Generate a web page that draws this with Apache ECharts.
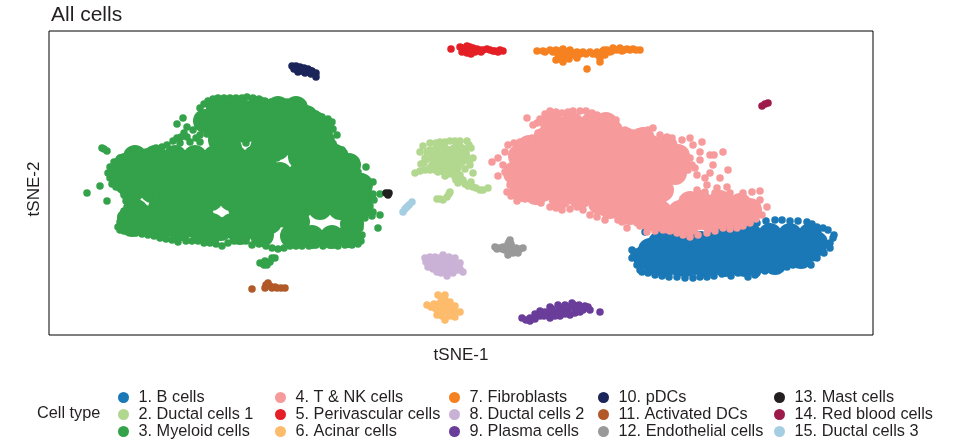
<!DOCTYPE html>
<html><head><meta charset="utf-8">
<style>html,body{margin:0;padding:0;background:#fff}#c{width:953px;height:445px}</style>
<script src="https://cdn.jsdelivr.net/npm/echarts@6/dist/echarts.min.js"></script>
</head><body><div id="c"></div>
<script>
const cellTypes=["1. B cells","2. Ductal cells 1","3. Myeloid cells","4. T & NK cells","5. Perivascular cells","6. Acinar cells","7. Fibroblasts","8. Ductal cells 2","9. Plasma cells","10. pDCs","11. Activated DCs","12. Endothelial cells","13. Mast cells","14. Red blood cells","15. Ductal cells 3"];
const colors=["#1a78b6","#b2d78f","#33a24a","#f69a9b","#e41f26","#fdbb6c","#f68121","#cab2d6","#6a3d9a","#1b2559","#b15928","#999999","#231f20","#9e1a4b","#a6cee3"];

const bCore=[[289,-52],[309,-52],[329,-52],[349,-52],[189,-67],[209,-67],[229,-67],[249,-67],[269,-67],[289,-67],[309,-67],[329,-67],[349,-67],[194,-80],[214,-80],[234,-80],[254,-80],[274,-80],[294,-80],[314,-80],[269,-57],[199,-60],[219,-60],[239,-60],[259,-60],[279,-60],[299,-60],[319,-60],[339,-60],[355,-60],[184,-74],[204,-74],[224,-74],[244,-74],[264,-74],[284,-74],[304,-74],[324,-74],[340,-74],[204,-82],[224,-82],[244,-82],[264,-82],[284,-82]];
const bEdge=[[171,-75],[173,-71],[171,-67],[176,-69],[182,-64],[189,-59],[195,-56],[202,-54],[209,-54],[216,-55],[224,-53],[232,-52],[240,-52],[249,-52],[257,-49],[266,-47],[272,-45],[279,-44],[287,-42],[296,-40],[305,-38],[314,-37],[321,-37],[329,-38],[337,-38],[346,-39],[351,-41],[356,-44],[362,-45],[367,-47],[372,-55],[373,-52],[369,-60],[369,-65],[363,-70],[356,-75],[350,-82],[347,-78],[339,-80],[332,-82],[326,-84],[319,-85],[312,-87],[304,-88],[296,-90],[294,-92],[287,-94],[277,-90],[270,-93],[261,-91],[253,-93],[246,-94],[239,-94],[232,-95],[224,-95],[216,-94],[208,-94],[201,-93],[194,-92],[187,-90],[181,-89],[176,-82],[179,-87],[184,-49],[182,-80],[179,-75],[187,-79]];

const ductal1Core=[[-20,28],[-3,28],[-11,18]];
const ductal1Edge=[[-41,31],[-38,37],[-31,40],[-25,40],[-21,41],[-16,41],[-11,42],[-6,42],[-1,42],[6,42],[8,38],[10,35],[12,25],[9,23],[9,18],[4,14],[-1,8],[-6,6],[-16,7],[-23,11],[-31,15],[-37,20],[-40,19],[-36,25],[-34,31],[-29,18],[-29,25],[-26,13],[-46,10],[-41,12],[-36,13],[-31,13],[12,10],[-3,0],[2,3],[-5,3],[-1,5],[7,-3],[12,-4],[19,-7],[15,-5],[22,-7],[27,-5],[4,-1],[10,1],[-24,-16],[-18,-17],[-14,-14],[-11,-9],[-12,-11],[-21,-16],[-31,33],[-28,30],[-25,33],[-34,24],[-24,17],[-20,12],[-12,9],[-7,10]];

const myeloidCore=[[-243,75],[-223,75],[-203,75],[-183,75],[-165,75],[-246,60],[-226,60],[-206,60],[-186,60],[-166,60],[-146,60],[-241,43],[-193,43],[-173,43],[-153,43],[-139,43],[-326,26],[-306,26],[-286,26],[-266,26],[-246,26],[-226,26],[-206,26],[-161,26],[-141,26],[-124,26],[-341,9],[-321,9],[-301,9],[-281,9],[-261,9],[-241,9],[-221,9],[-201,9],[-181,9],[-161,9],[-141,9],[-121,9],[-111,6],[-329,-8],[-309,-8],[-289,-8],[-269,-8],[-249,-8],[-229,-8],[-209,-8],[-189,-8],[-169,-8],[-149,-8],[-129,-8],[-111,-8],[-301,-25],[-281,-25],[-261,-25],[-221,-25],[-201,-25],[-181,-25],[-161,-25],[-141,-25],[-121,-25],[-101,-25],[-329,-42],[-309,-42],[-289,-42],[-269,-42],[-249,-42],[-229,-42],[-209,-42],[-323,-35],[-191,-39],[-163,-39],[-109,-41],[-169,-53],[-149,-54],[-129,-54],[-112,-53],[-199,-52],[-221,-50],
[-233,68],[-213,68],[-193,68],[-173,68],[-155,66],[-236,52],[-216,52],[-196,52],[-176,52],[-156,52],[-140,52],[-231,35],[-199,35],[-183,35],[-163,35],[-145,35],[-135,35],[-336,18],[-316,18],[-296,18],[-276,18],[-256,18],[-236,18],[-216,18],[-196,18],[-150,18],[-130,18],[-112,18],[-335,0],[-315,0],[-295,0],[-275,0],[-255,0],[-235,0],[-215,0],[-195,0],[-175,0],[-155,0],[-135,0],[-115,0],[-100,-2],[-290,-16],[-270,-16],[-250,-16],[-230,-16],[-210,-16],[-190,-16],[-170,-16],[-150,-16],[-130,-16],[-110,-16],[-100,-14],[-319,-33],[-299,-33],[-279,-33],[-259,-33],[-219,-33],[-199,-33],[-175,-33],[-280,-46],[-260,-48],[-240,-46],[-319,-40],[-325,-28],[-332,-36],[-256,62],[-300,-45],[-250,-49]];
const myeloidEdge=[[-261,75],[-257,79],[-253,82],[-248,84],[-243,85],[-237,85],[-231,85],[-225,85],[-219,85],[-214,86],[-208,85],[-202,84],[-196,82],[-190,81],[-184,81],[-178,81],[-174,81],[-168,80],[-162,78],[-156,75],[-150,72],[-145,69],[-139,66],[-133,64],[-129,61],[-131,58],[-128,54],[-124,48],[-130,45],[-134,40],[-128,38],[-124,35],[-119,33],[-121,28],[-116,23],[-109,25],[-111,18],[-105,17],[-95,16],[-103,11],[-99,6],[-94,-1],[-88,1],[-103,0],[-101,-7],[-95,-9],[-88,-11],[-81,-11],[-87,-17],[-91,-23],[-88,-29],[-81,-32],[-89,-33],[-96,-35],[-83,-45],[-103,-39],[-101,-45],[-99,-52],[-100,-58],[-103,-61],[-109,-62],[-116,-62],[-123,-63],[-131,-62],[-138,-63],[-145,-62],[-152,-63],[-159,-63],[-165,-63],[-171,-63],[-177,-65],[-183,-66],[-189,-65],[-195,-63],[-202,-61],[-209,-62],[-215,-58],[-221,-57],[-227,-58],[-233,-60],[-239,-63],[-245,-61],[-251,-60],[-257,-60],[-263,-58],[-269,-58],[-275,-58],[-283,-59],[-289,-57],[-295,-56],[-301,-55],[-307,-53],[-313,-52],[-319,-51],[-325,-50],[-331,-49],[-337,-48],[-341,-47],[-343,-44],[-341,-39],[-340,-33],[-337,-28],[-334,-24],[-335,-18],[-337,-12],[-339,-6],[-345,-4],[-349,-1],[-351,5],[-353,10],[-351,16],[-347,21],[-341,25],[-334,27],[-327,29],[-321,30],[-315,31],[-309,33],[-305,35],[-299,36],[-294,38],[-288,42],[-284,45],[-284,59],[-278,65],[-274,56],[-268,53],[-274,46],[-281,40],[-271,41],[-265,45],[-261,48],[-261,41],[-254,49],[-184,25],[-225,42],[-206,42],[-215,40],[-359,35],[-354,32],[-357,34],[-361,-3],[-374,-10],[-354,-18],[-201,-80],[-197,-82],[-194,-82],[-189,-75],[-186,-75],[-191,-79],[-196,-78],[-277,50],[-280,46]];

const tnkCore=[[91,59],[111,59],[131,59],[145,59],[84,44],[104,44],[124,44],[144,44],[164,44],[182,44],[59,27],[79,27],[99,27],[119,27],[139,27],[159,27],[179,27],[199,27],[217,27],[54,10],[74,10],[94,10],[114,10],[134,10],[154,10],[174,10],[194,10],[214,10],[61,-7],[81,-7],[101,-7],[121,-7],[141,-7],[161,-7],[181,-7],[201,-7],[139,-20],[159,-22],[179,-24],[199,-29],[239,-19],[259,-19],[279,-22],[219,-29],[239,-35],[259,-34],[279,-33],[209,-39],[227,-41],[189,-36],[99,-14],[119,-14],
[95,52],[115,52],[135,52],[150,52],[68,36],[88,36],[108,36],[128,36],[148,36],[168,36],[190,36],[205,36],[62,18],[82,18],[102,18],[122,18],[142,18],[162,18],[182,18],[202,18],[218,18],[58,2],[78,2],[98,2],[118,2],[138,2],[158,2],[178,2],[198,2],[75,-10],[135,-12],[155,-12],[175,-12],[195,-12],[149,-24],[169,-30],[189,-28],[229,-20],[249,-25],[269,-25],[289,-27],[249,-37],[269,-33],[199,-36],[218,-38]];
const tnkEdge=[[66,65],[72,58],[76,60],[79,64],[84,69],[89,72],[95,71],[101,70],[107,71],[112,72],[119,72],[125,72],[131,70],[136,68],[142,66],[147,65],[155,63],[155,56],[164,53],[172,50],[177,51],[182,52],[187,53],[192,55],[199,48],[206,46],[211,45],[221,43],[229,45],[232,38],[241,41],[239,31],[249,28],[253,28],[262,31],[252,18],[267,13],[259,5],[249,10],[246,-2],[256,-5],[266,-4],[269,-10],[282,-10],[291,-9],[299,-8],[299,-17],[306,-24],[301,-32],[295,-36],[289,-40],[282,-43],[276,-45],[269,-46],[262,-45],[254,-48],[246,-50],[237,-52],[229,-54],[222,-52],[216,-50],[209,-48],[202,-47],[194,-48],[186,-49],[179,-43],[176,-40],[166,-45],[161,-39],[157,-37],[144,-37],[136,-34],[129,-32],[122,-27],[116,-24],[109,-26],[101,-27],[95,-25],[89,-24],[80,-20],[72,-17],[64,-16],[56,-18],[50,-13],[46,-9],[49,-2],[37,7],[44,11],[42,18],[31,21],[37,25],[44,31],[47,38],[53,40],[59,41],[65,43],[71,45],[77,50],[234,15],[239,23],[229,25],[244,5],[236,-7],[244,-9],[254,-10],[227,13],[231,18],[236,8]];

const perivascularEdge=[[-10,134],[-1,136],[6,137],[12,135],[26,134],[42,132],[34,132],[19,133],[4,133],[6,130],[14,131],[29,133],[39,133],[2,135],[9,136],[16,134],[22,133],[32,132],[37,131],[1,131],[10,129],[20,131]];
const acinarEdge=[[-34,-122],[-30,-124],[-23,-112],[-16,-112],[-11,-119],[-6,-123],[-1,-129],[-6,-134],[-16,-137],[-24,-132],[-26,-125],[-19,-119],[-14,-127],[-21,-127],[-9,-127],[-20,-114],[-17,-122],[-11,-133],[-19,-133],[-12,-131],[-17,-128],[-24,-127],[-21,-120],[-13,-123],[-27,-121],[-20,-131],[-7,-128],[-18,-116],[-16,-117]];
const fibroblastEdge=[[76,132],[82,132],[89,133],[95,133],[102,134],[109,133],[111,130],[116,131],[122,131],[129,131],[136,131],[142,132],[146,133],[152,135],[159,135],[166,134],[172,134],[179,133],[151,132],[161,132],[97,129],[102,126],[105,128],[102,121],[95,123],[116,125],[139,125],[139,121],[137,128],[126,114],[144,128],[84,131],[92,131],[99,132],[106,131],[113,128],[119,129],[125,129],[132,129],[108,124],[99,124],[149,131],[156,133],[163,133],[169,133],[175,133],[140,130],[143,133]];
const ductal2Edge=[[-36,-75],[-26,-74],[-18,-72],[-6,-75],[-1,-80],[2,-89],[-8,-90],[-14,-93],[-24,-89],[-33,-84],[-29,-79],[-21,-79],[-13,-79],[-6,-83],[-21,-85],[-14,-86],[-27,-84],[-31,-74],[-12,-74],[-35,-79],[-3,-87],[-17,-75],[-8,-79],[-30,-77],[-25,-78],[-17,-80],[-9,-82],[-4,-84],[-25,-81],[-17,-84],[-11,-88],[-18,-88],[-33,-78],[-22,-75],[-12,-77],[-6,-87],[-1,-86],[-28,-86],[-20,-90]];
const plasmaEdge=[[61,-135],[69,-135],[79,-133],[87,-131],[95,-129],[104,-127],[114,-125],[124,-123],[129,-127],[119,-129],[109,-132],[99,-133],[89,-135],[139,-129],[111,-120],[89,-124],[69,-138],[104,-122],[74,-131],[114,-130],[122,-127],[99,-125],[84,-129],[65,-137],[74,-136],[83,-133],[92,-131],[100,-130],[107,-128],[109,-124],[117,-127],[124,-125],[94,-133],[104,-131],[113,-122],[118,-122],[127,-124],[79,-128],[91,-126],[97,-122]];
const pdcEdge=[[-169,117],[-165,117],[-161,116],[-157,115],[-153,114],[-149,112],[-145,110],[-145,106],[-150,109],[-156,110],[-163,111],[-167,114],[-160,112],[-155,113],[-165,114],[-150,112],[-158,114]];
const activatedEdge=[[-209,-106],[-195,-102],[-193,-100],[-191,-103],[-189,-105],[-184,-105],[-180,-105],[-176,-105],[-196,-105],[-186,-104]];
const endothelialEdge=[[34,-64],[38,-65],[42,-64],[49,-57],[47,-61],[49,-64],[62,-65],[57,-70],[47,-72],[51,-67],[44,-67],[56,-67],[36,-66],[41,-66],[46,-65],[47,-68],[52,-70],[55,-65],[59,-66],[50,-61],[48,-59]];
const mastEdge=[[-75,-10],[-72,-10],[-73,-12]];
const rbcEdge=[[301,77],[304,79],[307,80]];
const ductal3Edge=[[-58,-29],[-56,-26],[-54,-24],[-52,-22],[-49,-19]];

const coreSets=[bCore,ductal1Core,myeloidCore,tnkCore,[],[],[],[],[],[],[],[],[],[],[]];
const edgeSets=[bEdge,ductal1Edge,myeloidEdge,tnkEdge,perivascularEdge,acinarEdge,fibroblastEdge,ductal2Edge,plasmaEdge,pdcEdge,activatedEdge,endothelialEdge,mastEdge,rbcEdge,ductal3Edge];

const series=[];
cellTypes.forEach((name,i)=>{
  const base={type:'scatter',name,silent:true,animation:false,itemStyle:{color:colors[i],opacity:1},emphasis:{disabled:true}};
  if(coreSets[i].length) series.push({...base,symbolSize:24,data:coreSets[i]});
  series.push({...base,symbolSize:7.5,data:edgeSets[i]});
});
const textColor='#231f20', font='"Liberation Sans",Arial,sans-serif';
const lefts=[118,275,449,598,774];
const legend=lefts.map((left,c)=>({left,top:389,orient:'vertical',padding:0,itemGap:0,itemWidth:20,itemHeight:11,icon:'circle',selectedMode:false,
  data:cellTypes.slice(c*3,c*3+3),textStyle:{fontFamily:font,fontSize:16.3,lineHeight:17,color:textColor,padding:[0,0,0,0]}}));
const chart=echarts.init(document.getElementById('c'),null,{renderer:'canvas'});
chart.setOption({animation:false,backgroundColor:'#fff',
  title:[{text:'All cells',left:51,top:5,padding:0,textStyle:{fontFamily:font,fontSize:21,fontWeight:'normal',color:textColor}},
         {text:'Cell type',left:37,top:406,padding:0,textStyle:{fontFamily:font,fontSize:16.3,fontWeight:'normal',color:textColor}}],
  grid:{show:true,left:49,top:31,width:824,height:304,borderColor:'#000',borderWidth:1,backgroundColor:'#fff'},
  xAxis:{type:'value',min:-412,max:412,name:'tSNE-1',nameLocation:'middle',nameGap:12,nameTextStyle:{fontFamily:font,fontSize:17,color:textColor},axisLine:{show:false},axisTick:{show:false},axisLabel:{show:false},splitLine:{show:false}},
  yAxis:{type:'value',min:-152,max:152,name:'tSNE-2',nameLocation:'middle',nameGap:6,nameTextStyle:{fontFamily:font,fontSize:17,color:textColor,padding:[0,12,0,0]},axisLine:{show:false},axisTick:{show:false},axisLabel:{show:false},splitLine:{show:false}},
  legend,series});
</script></body></html>
